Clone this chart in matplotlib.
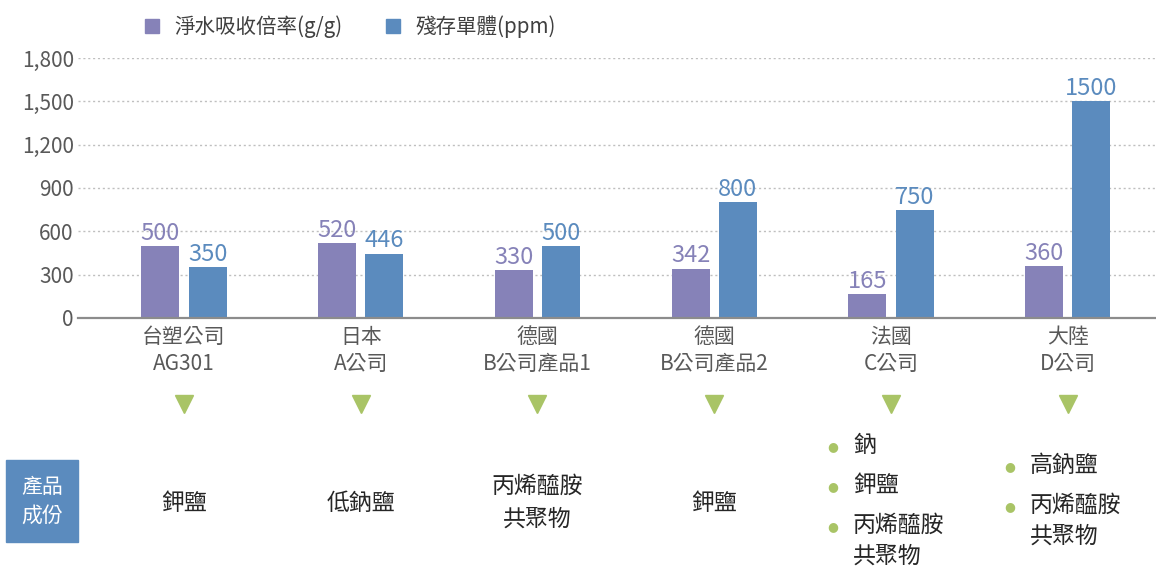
import matplotlib
matplotlib.use("Agg")
import matplotlib.pyplot as plt
from matplotlib.patches import Rectangle
from matplotlib.ticker import FuncFormatter

plt.rcParams['font.family'] = ['Noto Sans CJK TC', 'DejaVu Sans']

# Data
categories = ["台塑公司\nAG301", "日本\nA公司", "德國\nB公司產品1",
              "德國\nB公司產品2", "法國\nC公司", "大陸\nD公司"]
absorb = [500, 520, 330, 342, 165, 360]        # 淨水吸收倍率(g/g)
monomer = [350, 446, 500, 800, 750, 1500]      # 殘存單體(ppm)
series_names = ["淨水吸收倍率(g/g)", "殘存單體(ppm)"]
y_ticks = [0, 300, 600, 900, 1200, 1500, 1800]

# Composition rows under each company
composition = ["鉀鹽", "低鈉鹽", "丙烯醯胺\n共聚物", "鉀鹽"]
composition_bullets = {
    4: ["鈉", "鉀鹽", "丙烯醯胺\n共聚物"],
    5: ["高鈉鹽", "丙烯醯胺\n共聚物"],
}
row_title = "產品\n成份"

purple = "#8682B8"
blue = "#5B8BBE"
green = "#A9C466"
grey_txt = "#595959"

W, H = 1156, 580
fig = plt.figure(figsize=(W / 100, H / 100), dpi=100)
ax = fig.add_axes([78 / W, (H - 318) / H, (W - 78) / W, 260 / H])

x = list(range(len(categories)))
bw = 0.215
off = 0.134
b1 = ax.bar([i - off for i in x], absorb, bw, color=purple, zorder=3)
b2 = ax.bar([i + off for i in x], monomer, bw, color=blue, zorder=3)

for bars, vals, c in ((b1, absorb, purple), (b2, monomer, blue)):
    for r, v in zip(bars, vals):
        ax.text(r.get_x() + r.get_width() / 2, v + 8, str(v), ha='center',
                va='bottom', fontsize=17, color=c, zorder=4)

ax.set_xlim(-0.6, 5.5)
ax.set_ylim(0, 1800)
ax.set_yticks(y_ticks)
ax.yaxis.set_major_formatter(FuncFormatter(lambda v, p: f"{int(v):,}"))
ax.set_xticks(x)
ax.set_xticklabels(categories, linespacing=1.25)
ax.tick_params(axis='both', length=0, labelsize=15, colors=grey_txt)
ax.tick_params(axis='y', pad=3)
ax.tick_params(axis='x', pad=6)
ax.grid(axis='y', linestyle=(0, (1.5, 2)), color="#BFBFBF", lw=1, zorder=0)
for s in ("left", "right", "top"):
    ax.spines[s].set_visible(False)
ax.spines["bottom"].set_color("#8C8C8C")
ax.spines["bottom"].set_linewidth(1.6)
ax.spines["bottom"].set_zorder(5)

# legend
handles = [Rectangle((0, 0), 1, 1, color=purple), Rectangle((0, 0), 1, 1, color=blue)]
fig.legend(handles, series_names, loc='center left',
           bbox_to_anchor=(126 / W, 1 - 27 / H), ncol=2, frameon=False,
           fontsize=14.8, handlelength=0.7, handleheight=0.7,
           handletextpad=0.75, columnspacing=2.1, labelcolor="#404040")

# green down triangles
trans = ax.get_xaxis_transform()
ax.plot(x, [-0.33] * len(x), linestyle='none', marker='v', markersize=13,
        color=green, transform=trans, clip_on=False)

# composition row title box
fig.patches.append(Rectangle((6 / W, 1 - 542 / H), 72 / W, 82 / H,
                             transform=fig.transFigure, color=blue))
fig.text(42 / W, 1 - 501 / H, row_title, ha='center', va='center',
         color='white', fontsize=15, linespacing=1.4)

# plain composition texts
for i, item in enumerate(composition):
    ax.annotate(item, xy=(i, 0), xycoords=('data', 'axes fraction'),
                xytext=(0, -185), textcoords='offset pixels',
                ha='center', va='center', fontsize=16.5, color="#262626",
                linespacing=1.55, annotation_clip=False)

# bullet lists
bullet_rows = {4: [447, 487, 527], 5: [467, 507]}
for i, items in composition_bullets.items():
    for item, ypix in zip(items, bullet_rows[i]):
        dy = -(ypix - 318)
        ax.annotate("●", xy=(i, 0), xycoords=('data', 'axes fraction'),
                    xytext=(-58, dy), textcoords='offset pixels',
                    ha='center', va='center', fontsize=9, color=green,
                    family=['DejaVu Sans'], annotation_clip=False)
        ax.annotate(item, xy=(i, 0), xycoords=('data', 'axes fraction'),
                    xytext=(-38, dy + 13), textcoords='offset pixels',
                    ha='left', va='top', fontsize=16.5, color="#262626",
                    linespacing=1.45, annotation_clip=False)

fig.savefig("out.png", dpi=100)
